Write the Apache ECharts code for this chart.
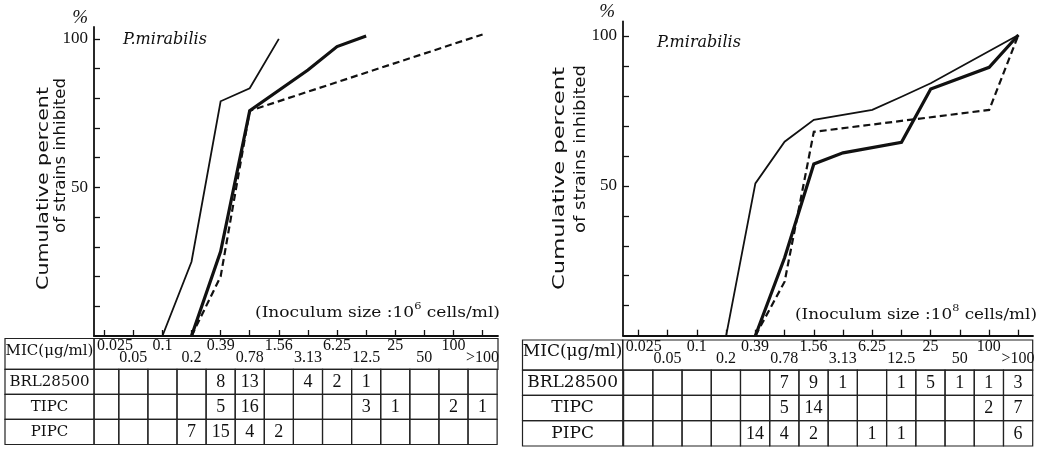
<!DOCTYPE html>
<html><head><meta charset="utf-8">
<script src="https://cdn.jsdelivr.net/npm/echarts@6/dist/echarts.min.js"></script>
<style>html,body{margin:0;padding:0;background:#fff}#c{width:1049px;height:450px}</style>
</head><body><div id="c"></div>
<script>
// ---------------- data ----------------
const micLabels = ['0.025','0.05','0.1','0.2','0.39','0.78','1.56','3.13','6.25','12.5','25','50','100','>100'];
const drugNames = ['BRL28500','TIPC','PIPC'];
const yTickLabels = [50, 100];
const yMinorTicks = [10,20,30,40,50,60,70,80,90,100];
const xTickIdx = [0,1,2,3,4,5,6,7,8,9,10,11,12,13];
const titleText = 'P.mirabilis';
const yNameLines = ['Cumulative percent', 'of strains inhibited'];
const micHeader = 'MIC(μg/ml)';

// number of strains in each MIC column, inoculum 10^6
const brlCounts6  = [null,null,null,null,8,13,null,4,2,1,null,null,null,null];
const tipcCounts6 = [null,null,null,null,5,16,null,null,null,3,1,null,2,1];
const pipcCounts6 = [null,null,null,7,15,4,2,null,null,null,null,null,null,null];
// inoculum 10^8
const brlCounts8  = [null,null,null,null,null,7,9,1,null,1,5,1,1,3];
const tipcCounts8 = [null,null,null,null,null,5,14,null,null,null,null,null,2,7];
const pipcCounts8 = [null,null,null,null,14,4,2,null,1,1,null,null,null,6];

// cumulative percent curves: [MIC column index, percent]
const brlCurve6  = [[3,0],[4,28.4],[5,75.8],[7,89.5],[8,97.4],[9,101]];
const tipcCurve6 = [[3,0],[4,20],[5,75.8],[13,101.5]];
const pipcCurve6 = [[2,0],[3,25],[4,79],[5,83.4],[6,100]];
const brlCurve8  = [[4,0],[5,26],[6,57.3],[7,61],[9,64.5],[10,82.3],[12,89.5],[13,100.3]];
const tipcCurve8 = [[4,0],[5,18],[6,68],[12,75.3],[13,100.3]];
const pipcCurve8 = [[3,0],[4,50.8],[5,64.7],[6,72],[8,75.3],[9,79.7],[10,84.2],[13,100.3]];

// ---------------- layout ----------------
const panels = [
  { counts:[brlCounts6,tipcCounts6,pipcCounts6], curves:[brlCurve6,tipcCurve6,pipcCurve6], power:'6',
    grid:{left:94, top:27, width:404, height:309}, xMin:-0.35, xMax:13.53, yMax:104,
    tGrid:{left:5, top:338.5, width:493, height:106}, tXMin:-3.41, tYMin:-1.23,
    rowFont:15, pctPad:6, titlePos:{left:123, top:32},
    yName:[{x:44,y:188.5,len:203},{x:61,y:155.5,len:155}],
    inoc:{right:500, y:311, len:245} },
  { counts:[brlCounts8,tipcCounts8,pipcCounts8], curves:[brlCurve8,tipcCurve8,pipcCurve8], power:'8',
    grid:{left:623, top:21.5, width:410, height:314.2}, xMin:-0.53, xMax:13.5, yMax:104.8,
    tGrid:{left:522.5, top:340, width:510.2, height:106}, tXMin:-3.96, tYMin:-1.19,
    rowFont:17, pctPad:8, titlePos:{left:657, top:35},
    yName:[{x:560,y:178.5,len:223},{x:581.5,y:149,len:168}],
    inoc:{right:1037, y:313, len:242} }
];
const curveStyles = [
  {width:3.2, type:'solid'},   // BRL28500
  {width:2.2, type:[7,4]},     // TIPC
  {width:1.8, type:'solid'}    // PIPC
];
const INK = '#111';

const mctx = document.createElement('canvas').getContext('2d');
function measure(t, font){ mctx.font = font; return mctx.measureText(t).width; }

function tableSeries(p, idx){
  const items = [{kind:'header', value:[0,0]}];
  micLabels.forEach((t,c)=>items.push({kind:'mic', c, text:t, value:[c,0]}));
  drugNames.forEach((name,r)=>{
    items.push({kind:'row', r, text:name, value:[0,r]});
    p.counts[r].forEach((v,c)=>items.push({kind:'cell', c, r, text: v==null?'':String(v), value:[c,r]}));
  });
  return {
    type:'custom', xAxisIndex:idx, yAxisIndex:idx, silent:true, animation:false, clip:false,
    data: items.map(it=>it.value),
    renderItem(params, api){
      const it = items[params.dataIndex];
      const P = (x,y)=>api.coord([x,y]);
      const ls = {fill:'none', stroke:'#222', lineWidth:1.2};
      const rect = (x0,y0,x1,y1)=>{const a=P(x0,y0), b=P(x1,y1);
        return {type:'rect', shape:{x:a[0], y:a[1], width:b[0]-a[0], height:b[1]-a[1]}, style:ls};};
      const txt = (x,y,s,font,al)=>({type:'text', x, y, style:{text:s, font, fill:INK,
        align:al||'center', verticalAlign:'middle', textAlign:al||'center', textVerticalAlign:'middle'}});
      const ch = [];
      if (it.kind==='header'){
        ch.push(rect(p.tXMin, p.tYMin, p.xMin, 0));
        ch.push(rect(p.xMin, p.tYMin, p.xMax, 0));
        const c = P((p.tXMin+p.xMin)/2, p.tYMin*0.6);
        ch.push(txt(c[0], c[1], micHeader, p.rowFont+'px "DejaVu Serif"'));
      } else if (it.kind==='mic'){
        const yv = (it.c%2===0) ? p.tYMin*0.76 : p.tYMin*0.36;
        const pt = P(it.c, yv);
        if (it.c===0){ const l = P(p.xMin, yv); ch.push(txt(l[0]+3, pt[1], it.text, '16px "Liberation Serif"', 'left')); }
        else ch.push(txt(pt[0], pt[1], it.text, '16px "Liberation Serif"'));
      } else if (it.kind==='row'){
        ch.push(rect(p.tXMin, it.r, p.xMin, it.r+1));
        const c = P((p.tXMin+p.xMin)/2, it.r+0.5);
        ch.push(txt(c[0], c[1], it.text, p.rowFont+'px "DejaVu Serif"'));
      } else {
        const x0 = Math.max(it.c-0.5, p.xMin), x1 = Math.min(it.c+0.5, p.xMax);
        ch.push(rect(x0, it.r, x1, it.r+1));
        if (it.text){ const c = P(it.c, it.r+0.52); ch.push(txt(c[0], c[1], it.text, '18px "Liberation Serif"')); }
      }
      return {type:'group', children:ch};
    }
  };
}

const yFont = '15px "DejaVu Sans"';
const inocFont = 15, supFont = 10;

const option = {
  backgroundColor:'#fff', animation:false,
  title: panels.map(p=>({text:titleText, left:p.titlePos.left, top:p.titlePos.top, padding:0,
    textStyle:{fontFamily:'DejaVu Serif', fontStyle:'italic', fontWeight:'normal', fontSize:16, color:INK}})),
  grid: [...panels.map(p=>Object.assign({outerBoundsMode:'none'}, p.grid)),
         ...panels.map(p=>Object.assign({outerBoundsMode:'none'}, p.tGrid))],
  xAxis: [
    ...panels.map((p,i)=>({gridIndex:i, type:'value', min:p.xMin, max:p.xMax,
      axisLine:{show:true, onZero:false, lineStyle:{color:INK, width:1.8}},
      axisTick:{show:true, inside:true, length:6, customValues:xTickIdx, lineStyle:{color:INK, width:1.3}},
      axisLabel:{show:false}, splitLine:{show:false}})),
    ...panels.map((p,i)=>({gridIndex:i+2, type:'value', min:p.tXMin, max:p.xMax, show:false}))
  ],
  yAxis: [
    ...panels.map((p,i)=>({gridIndex:i, type:'value', min:0, max:p.yMax,
      name:'%', nameLocation:'end', nameGap:0,
      nameTextStyle:{fontFamily:'Liberation Serif', fontStyle:'italic', fontSize:19, color:INK,
        align:'right', verticalAlign:'bottom', padding:[0,p.pctPad,0,0]},
      axisLine:{show:true, onZero:false, lineStyle:{color:INK, width:1.8}},
      axisTick:{show:true, inside:true, length:6, customValues:yMinorTicks, lineStyle:{color:INK, width:1.3}},
      axisLabel:{show:true, customValues:yTickLabels, margin:6, fontFamily:'Liberation Serif', fontSize:17, color:INK},
      splitLine:{show:false}})),
    ...panels.map((p,i)=>({gridIndex:i+2, type:'value', min:p.tYMin, max:3, inverse:true, show:false}))
  ],
  series: [
    ...panels.flatMap((p,i)=>p.curves.map((cv,k)=>({type:'line', xAxisIndex:i, yAxisIndex:i, data:cv,
      symbol:'none', silent:true, clip:false,
      lineStyle:{color:INK, width:curveStyles[k].width, type:curveStyles[k].type, join:'miter'}}))),
    ...panels.map((p,i)=>tableSeries(p, i+2))
  ],
  graphic: panels.flatMap(p=>{
    const els = p.yName.map((n,i)=>({type:'text', x:n.x, y:n.y, rotation:Math.PI/2,
      scaleX: n.len/measure(yNameLines[i], yFont), silent:true,
      style:{text:yNameLines[i], font:yFont, fill:INK, align:'center', verticalAlign:'middle',
        textAlign:'center', textVerticalAlign:'middle'}}));
    const parts = ['(Inoculum size :10', p.power, ' cells/ml)'];
    const bf = inocFont+'px "DejaVu Serif"', sf = supFont+'px "DejaVu Serif"';
    const nat = measure(parts[0], bf) + measure(parts[1], sf) + measure(parts[2], bf);
    els.push({type:'text', x:p.inoc.right, y:p.inoc.y, scaleX:p.inoc.len/nat, silent:true,
      style:{text:'{n|'+parts[0]+'}{sup|'+parts[1]+'}{n|'+parts[2]+'}', fill:INK,
        rich:{n:{fontSize:inocFont, fontFamily:'DejaVu Serif', lineHeight:20, verticalAlign:'bottom', fill:INK},
              sup:{fontSize:supFont, fontFamily:'DejaVu Serif', lineHeight:10, verticalAlign:'top', fill:INK}},
        align:'right', verticalAlign:'middle', textAlign:'right', textVerticalAlign:'middle'}});
    return els;
  })
};

const chart = echarts.init(document.getElementById('c'), null, {renderer:'canvas', width:1049, height:450});
chart.setOption(option);
</script>
</body></html>
